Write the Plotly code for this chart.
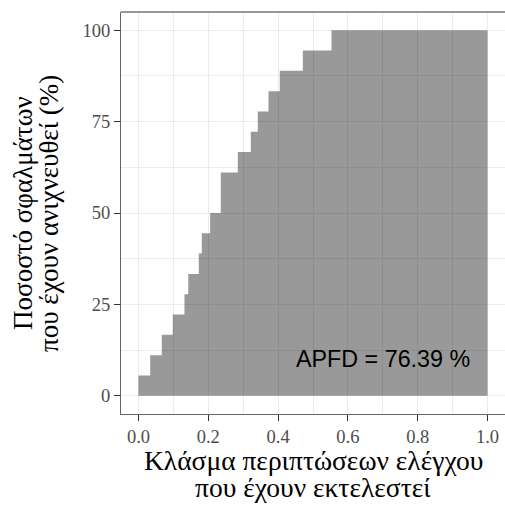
import plotly.graph_objects as go

# Fraction of executed test cases (step start positions)
fraction_executed = [0.0, 0.0335, 0.0668, 0.0983, 0.1318, 0.1427, 0.1728, 0.1814,
                     0.2054, 0.2358, 0.2845, 0.3218, 0.3418, 0.3725, 0.4049,
                     0.4708, 0.5530, 1.0]
# Percentage of faults detected
faults_detected = [5.56, 11.11, 16.67, 22.22, 27.78, 33.33, 38.89, 44.44,
                   50.0, 61.11, 66.67, 72.22, 77.78, 83.33, 88.89,
                   94.44, 100.0, 100.0]

x_ticks = [0.0, 0.2, 0.4, 0.6, 0.8, 1.0]
x_tick_labels = ["0.0", "0.2", "0.4", "0.6", "0.8", "1.0"]
y_ticks = [0, 25, 50, 75, 100]
y_tick_labels = ["0", "25", "50", "75", "100"]
apfd_text = "APFD = 76.39 %"
x_title_lines = ["Κλάσμα περιπτώσεων ελέγχου", "που έχουν εκτελεστεί"]
y_title_lines = ["Ποσοστό σφαλμάτων", "που έχουν ανιχνευθεί (%)"]

serif = "Liberation Serif, DejaVu Serif, serif"

fig = go.Figure()
fig.add_trace(go.Scatter(
    x=fraction_executed, y=faults_detected,
    mode="lines", line=dict(shape="hv", width=0),
    fill="tozeroy", fillcolor="rgba(0,0,0,0.4)",
    hoverinfo="skip", showlegend=False,
))

fig.add_annotation(x=0.7, y=10, text=apfd_text, showarrow=False,
                   font=dict(family="Liberation Sans, Arial, sans-serif", size=23.3, color="black"),
                   xanchor="center", yanchor="middle")

# axis titles (two lines each)
for text, ypos in zip(x_title_lines, [-0.1149, -0.1838]):
    fig.add_annotation(xref="paper", yref="paper", x=0.5, y=ypos, text=text,
                       showarrow=False, xanchor="center", yanchor="middle",
                       font=dict(family=serif, size=27.5, color="black"))
for text, xpos in zip(y_title_lines, [-0.2555, -0.1878]):
    fig.add_annotation(xref="paper", yref="paper", x=xpos, y=0.5, text=text,
                       showarrow=False, xanchor="center", yanchor="middle", textangle=-90,
                       font=dict(family=serif, size=27, color="black"))

fig.add_shape(type="line", xref="paper", yref="paper", x0=0, x1=1, y0=1, y1=1,
              line=dict(color="#333333", width=1.2))

fig.update_layout(
    width=505, height=505,
    margin=dict(l=121, r=0, t=12, b=91),
    paper_bgcolor="white", plot_bgcolor="white",
    showlegend=False,
    xaxis=dict(
        range=[-0.05, 1.05], tickvals=x_ticks, ticktext=x_tick_labels,
        showgrid=True, gridcolor="#EBEBEB", gridwidth=1.2,
        minor=dict(dtick=0.1, tick0=0.1, showgrid=True, gridcolor="#EBEBEB", gridwidth=0.6),
        zeroline=False, showline=True, linecolor="#666666", linewidth=1.2,
        ticks="outside", ticklen=6, tickcolor="#333333", tickwidth=1.1,
        tickfont=dict(family=serif, size=18.5, color="#4D4D4D"),
    ),
    yaxis=dict(
        range=[-5, 105], tickvals=y_ticks, ticktext=y_tick_labels,
        showgrid=True, gridcolor="#EBEBEB", gridwidth=1.2,
        minor=dict(dtick=12.5, tick0=12.5, showgrid=True, gridcolor="#EBEBEB", gridwidth=0.6),
        zeroline=False, showline=True, linecolor="#666666", linewidth=1.2,
        ticks="outside", ticklen=6, tickcolor="#333333", tickwidth=1.1,
        tickfont=dict(family=serif, size=18.5, color="#4D4D4D"),
    ),
)

fig.write_html("out.html")
